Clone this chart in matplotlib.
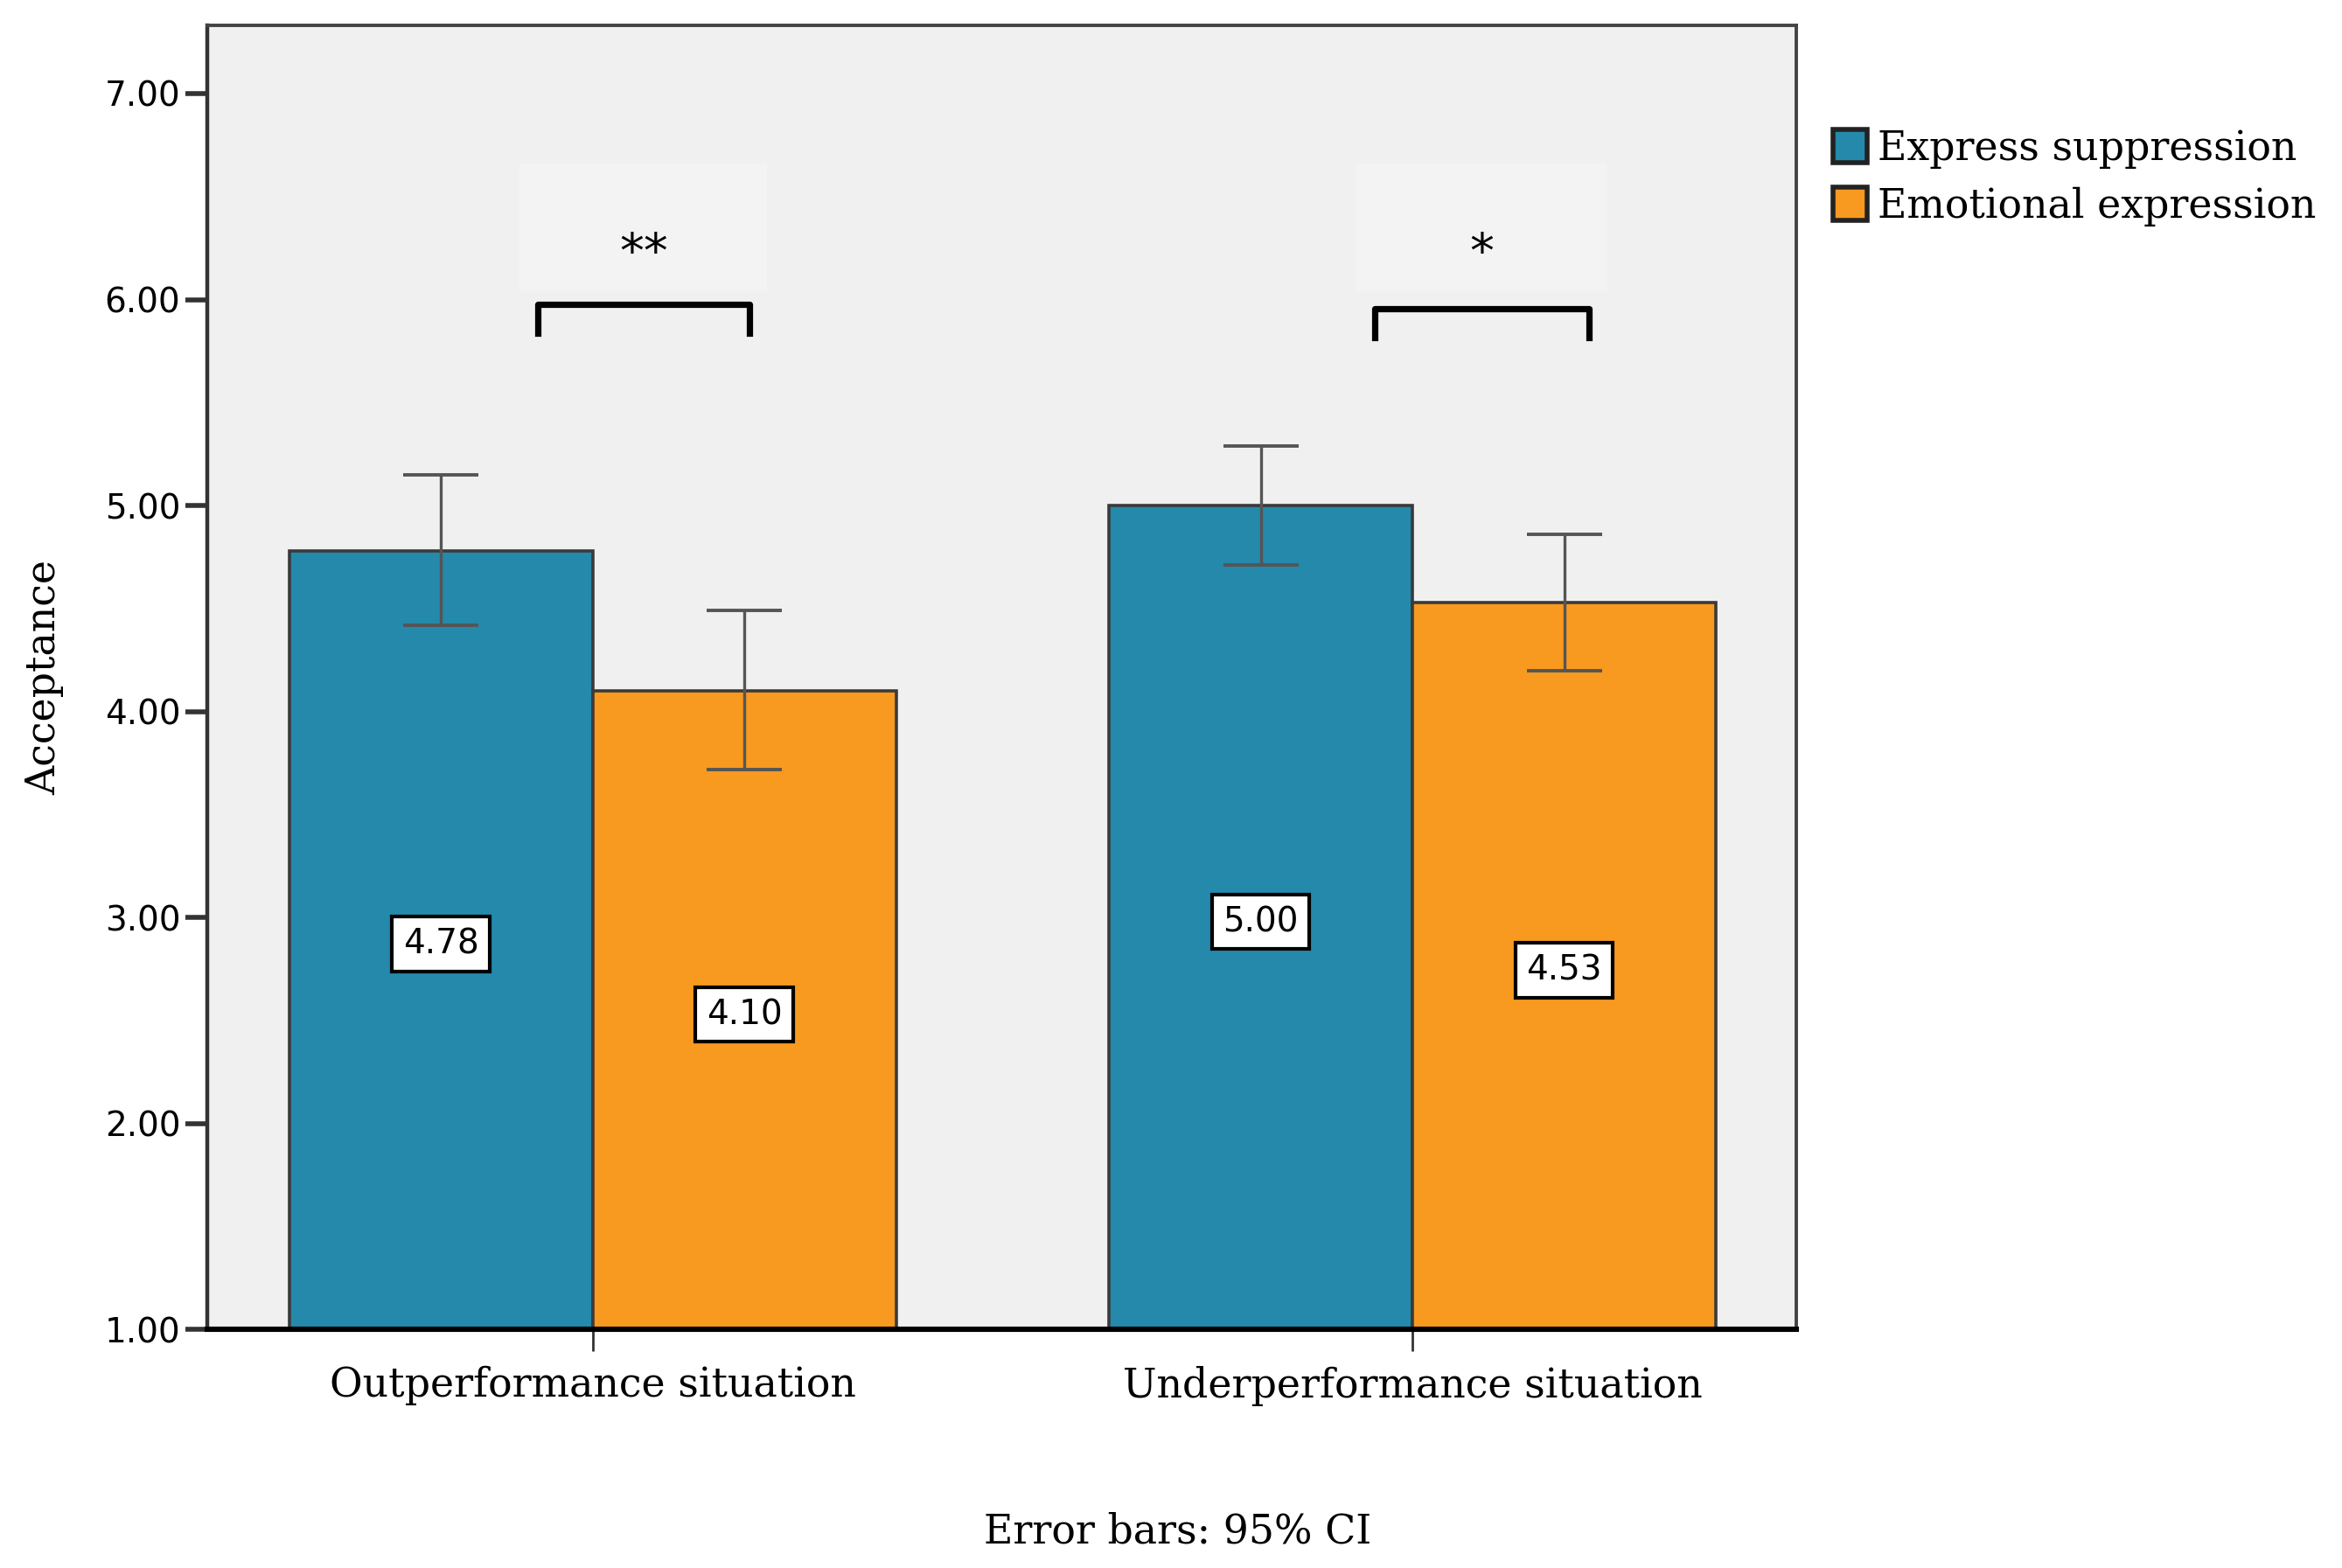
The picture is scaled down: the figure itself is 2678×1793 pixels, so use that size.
import numpy as np
import matplotlib
matplotlib.use("Agg")
import matplotlib.pyplot as plt
from matplotlib.patches import Rectangle

# === Data ===
categories = ["Outperformance situation", "Underperformance situation"]
series = ["Express suppression", "Emotional expression"]
means_suppression = [4.78, 5.00]
means_expression = [4.10, 4.53]
ci_low_suppression = [4.42, 4.71]
ci_high_suppression = [5.15, 5.29]
ci_low_expression = [3.72, 4.20]
ci_high_expression = [4.49, 4.86]
significance = ["**", "*"]

colors = ["#2489ab", "#f89920"]
bg = "#f0f0f0"
serif = ["DejaVu Serif"]

fig = plt.figure(figsize=(13.39, 8.965), dpi=200)
ax = fig.add_axes([0.0885, 0.152, 0.6785, 0.8317])
ax.set_facecolor(bg)

x = np.arange(len(categories))
width = 0.37

means = [means_suppression, means_expression]
lows = [ci_low_suppression, ci_low_expression]
highs = [ci_high_suppression, ci_high_expression]
offsets = [-width / 2, width / 2]

for i in range(2):
    m = np.array(means[i])
    err = np.vstack([m - np.array(lows[i]), np.array(highs[i]) - m])
    ax.bar(x + offsets[i], m - 1, bottom=1, width=width, color=colors[i],
           edgecolor="#3a3a3a", linewidth=1.3, label=series[i], zorder=2)
    eb = ax.errorbar(x + offsets[i], m, yerr=err, fmt="none", ecolor="#555555",
                     elinewidth=1.2, capsize=15.5, capthick=1.4, zorder=3)
    for cap in eb[1]:
        cap.set_color("black")
    for xi, v in zip(x + offsets[i], m):
        ax.text(xi, (v + 1) / 2 - 0.02, f"{v:.2f}", ha="center", va="center",
                fontsize=14, family="DejaVu Sans", zorder=4,
                bbox=dict(boxstyle="square,pad=0.32", facecolor="white",
                          edgecolor="black", linewidth=1.5))

# significance brackets (left/right offsets from category centre)
bracket_left = [-0.067, -0.046]
bracket_right = [0.191, 0.215]
bracket_top = [5.975, 5.955]
for xc, sig, dl, dr, ytop in zip(x, significance, bracket_left, bracket_right, bracket_top):
    x0, x1 = xc + dl, xc + dr
    ax.add_patch(Rectangle((x0 - 0.022, 6.04), (x1 - x0) + 0.044, 0.62,
                           facecolor="#f3f3f3", edgecolor="none", zorder=1))
    ax.plot([x0, x0, x1, x1], [ytop - 0.14, ytop, ytop, ytop - 0.14],
            color="black", linewidth=2.6, zorder=3)
    ax.text((x0 + x1) / 2, 6.22, sig, ha="center", va="center",
            fontsize=20, family="DejaVu Sans", zorder=4)

ax.set_xlim(-0.47, 1.468)
ax.set_ylim(1, 7.33)
ax.set_yticks([1, 2, 3, 4, 5, 6, 7])
ax.set_yticklabels([f"{v:.2f}" for v in [1, 2, 3, 4, 5, 6, 7]],
                   fontsize=14, family="DejaVu Sans")
ax.set_xticks(x)
ax.set_xticklabels(categories, fontsize=16.5, family=serif)
ax.tick_params(axis="y", length=9, width=2, color="#333333", pad=2)
ax.tick_params(axis="x", length=9, width=1, color="#333333", pad=6)

ax.spines["left"].set_color("#333333")
ax.spines["left"].set_linewidth(1.6)
ax.spines["bottom"].set_color("black")
ax.spines["bottom"].set_linewidth(2.2)
for s in ["top", "right"]:
    ax.spines[s].set_color("#444444")
    ax.spines[s].set_linewidth(1.4)

ax.set_ylabel("Acceptance", fontsize=16.5, family=serif)
ax.yaxis.set_label_coords(-0.09, 0.5)

fig.text(0.503, 0.023, "Error bars: 95% CI", ha="center", va="center",
         fontsize=16.5, family=serif)

handles, labels = ax.get_legend_handles_labels()
leg = fig.legend(handles, labels, loc="upper left", bbox_to_anchor=(0.776, 0.928),
                 frameon=False, prop={"family": serif, "size": 16.5},
                 handlelength=0.85, handleheight=0.9, handletextpad=0.25,
                 labelspacing=0.45, borderaxespad=0)
for h in leg.legend_handles:
    h.set_edgecolor("#222222")
    h.set_linewidth(2)

fig.savefig("out.png", dpi=200, facecolor="white")
